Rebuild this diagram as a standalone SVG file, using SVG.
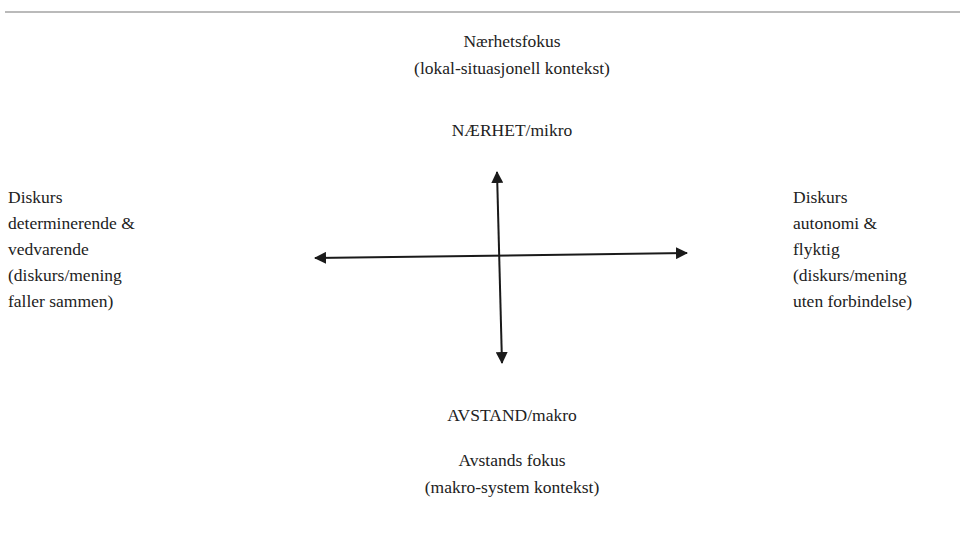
<svg xmlns="http://www.w3.org/2000/svg" width="960" height="547" viewBox="0 0 960 547">
<defs>
<style>
text{font-family:"Liberation Serif","Times New Roman",serif;font-size:17.5px;fill:#222}
.c{text-anchor:middle}
.ax{stroke:#1a1a1a;stroke-width:2;fill:none}
</style>
<marker id="ah" viewBox="0 0 12 12" refX="11" refY="6" markerWidth="12" markerHeight="12" markerUnits="userSpaceOnUse" orient="auto-start-reverse">
<path d="M0,0 L12,6 L0,12 Z" fill="#1a1a1a"/>
</marker>
</defs>
<rect width="960" height="547" fill="#fff"/>
<line x1="5" y1="12" x2="960" y2="12" stroke="#777" stroke-width="1.2"/>
<g id="top">
<text class="c" x="512" y="47">Nærhetsfokus</text>
<text class="c" x="512" y="74">(lokal-situasjonell kontekst)</text>
</g>
<g id="naerhet"><text class="c" x="512" y="136">NÆRHET/mikro</text></g>
<g id="left">
<text x="8" y="203">Diskurs</text>
<text x="8" y="229">determinerende &amp;</text>
<text x="8" y="255">vedvarende</text>
<text x="8" y="281">(diskurs/mening</text>
<text x="8" y="307">faller sammen)</text>
</g>
<g id="right">
<text x="793" y="203">Diskurs</text>
<text x="793" y="229">autonomi &amp;</text>
<text x="793" y="255">flyktig</text>
<text x="793" y="281">(diskurs/mening</text>
<text x="793" y="307">uten forbindelse)</text>
</g>
<g id="avstand"><text class="c" x="512" y="421">AVSTAND/makro</text></g>
<g id="bottom">
<text class="c" x="512" y="466">Avstands fokus</text>
<text class="c" x="512" y="493">(makro-system kontekst)</text>
</g>
<g id="connectors">
<line class="ax" x1="497" y1="172" x2="502" y2="363" marker-start="url(#ah)" marker-end="url(#ah)"/>
<line class="ax" x1="315" y1="258" x2="687" y2="253" marker-start="url(#ah)" marker-end="url(#ah)"/>
</g>
</svg>
